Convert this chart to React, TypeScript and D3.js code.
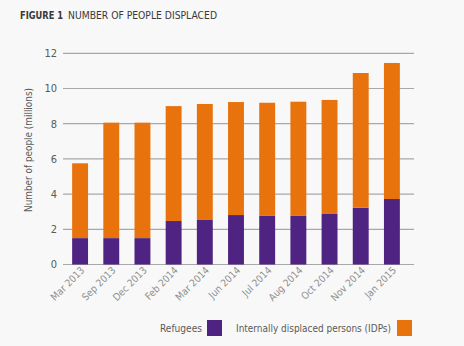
import React from "react";
import * as d3 from "d3";

const categories = ["Mar 2013", "Sep 2013", "Dec 2013", "Feb 2014", "Mar 2014", "Jun 2014", "Jul 2014", "Aug 2014", "Oct 2014", "Nov 2014", "Jan 2015"];
const refugees = [1.5, 1.5, 1.5, 2.47, 2.53, 2.81, 2.76, 2.76, 2.87, 3.23, 3.72];
const idps = [4.25, 6.56, 6.56, 6.53, 6.59, 6.42, 6.43, 6.49, 6.48, 7.65, 7.73];
const yTicks = [0, 2, 4, 6, 8, 10, 12];
const seriesNames = ["Refugees", "Internally displaced persons (IDPs)"];

const W = 464, H = 346;
const PURPLE = "#4e2382";
const ORANGE = "#e8730c";
const TEXT = "#5a5a5a";
const FONT = "'DejaVu Sans Condensed', 'Roboto Condensed', Roboto, sans-serif";

export default function App() {
  const x = d3.scaleBand<string>().domain(categories).range([64.5, 407.5]).paddingInner(0.49).paddingOuter(0.245);
  const y = d3.scaleLinear().domain([0, 12]).range([264.5, 53.3]);
  const data = categories.map((c, i) => ({ c, r: refugees[i], d: idps[i] }));
  const stack = d3.stack<any>().keys(["r", "d"])(data as any);
  const colors = [PURPLE, ORANGE];

  return (
    <svg width={W} height={H} style={{ position: "absolute", left: 0, top: 0, background: "#f8f8f8", fontFamily: FONT }}>
      <rect x={0} y={0} width={W} height={H} fill="#f8f8f8" />
      <text x={20} y={18.5} fontSize={10} fill="#3a3a3a" fontWeight="bold" textLength={43} lengthAdjust="spacingAndGlyphs">FIGURE 1</text>
      <text x={68} y={18.5} fontSize={10.5} fill="#3a3a3a" textLength={149} lengthAdjust="spacingAndGlyphs">NUMBER OF PEOPLE DISPLACED</text>
      {yTicks.map((t) => (
        <g key={t}>
          <line x1={63} x2={414} y1={y(t)} y2={y(t)} stroke="#a8a8a8" strokeWidth={1.2} />
          <text x={57} y={y(t)} dy="0.35em" textAnchor="end" fontSize={11} fill={TEXT}>{t}</text>
        </g>
      ))}
      <text transform={`translate(32,150) rotate(-90)`} textAnchor="middle" fontSize={10.5} fill={TEXT} textLength={124} lengthAdjust="spacingAndGlyphs">Number of people (millions)</text>
      {stack.map((s, si) => (
        <g key={si} fill={colors[si]}>
          {s.map((p: any, i: number) => (
            <rect key={i} x={x(categories[i])} width={x.bandwidth()} y={y(p[1])} height={y(p[0]) - y(p[1])} />
          ))}
        </g>
      ))}
      {categories.map((c) => (
        <text key={c} transform={`translate(${(x(c) as number) + x.bandwidth() / 2 + 5},${271}) rotate(-45)`} textAnchor="end" fontSize={10} fill="#8f8f8f">{c}</text>
      ))}
      <text x={160} y={332} fontSize={10.5} fill={TEXT} textLength={42} lengthAdjust="spacingAndGlyphs">{seriesNames[0]}</text>
      <rect x={207} y={320} width={15} height={16} fill={PURPLE} />
      <text x={236} y={332} fontSize={10.5} fill={TEXT} textLength={155} lengthAdjust="spacingAndGlyphs">{seriesNames[1]}</text>
      <rect x={397} y={320} width={15} height={16} fill={ORANGE} />
    </svg>
  );
}
